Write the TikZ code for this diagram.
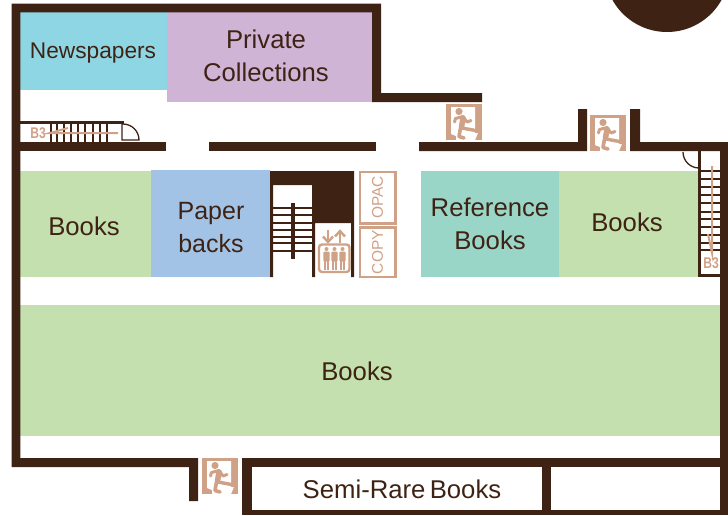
\documentclass[tikz,border=0pt]{standalone}
\usepackage{fontspec}
\setmainfont{Liberation Sans}
\definecolor{wall}{HTML}{3E2314}
\definecolor{tan}{HTML}{CFA186}
\definecolor{cyanr}{HTML}{8FD6E4}
\definecolor{purp}{HTML}{D0B4D6}
\definecolor{grn}{HTML}{C3E0AE}
\definecolor{blu}{HTML}{A3C3E6}
\definecolor{teal2}{HTML}{99D6C8}
\newcommand{\exitsign}[2]{%
 \begin{scope}[shift={(#1,#2)}]
  \fill[tan] (0,0) rectangle (36,36);
  \fill[white] (5,3) -- (29,3) -- (29,25) -- (32,29) -- (29,36) -- (10,36) -- (10,32) -- (5,30) -- cycle;
  \fill[tan] (13,7.5) circle (3.6);
  \draw[tan,line width=3,line join=round,line cap=round] (8.5,18) -- (9.5,14.5) -- (17,12.5) -- (21,18) -- (25,16.5);
  \draw[tan,line width=5.5,line cap=round] (17,14) -- (15.5,23);
  \draw[tan,line width=3.4,line join=round,line cap=round] (16,24) -- (24,25.5) -- (29.5,26.5) -- (31,28);
  \draw[tan,line width=3.6,line join=round,line cap=round] (14.5,24) -- (13,32.5) -- (18,34);
 \end{scope}}
\newcommand{\person}[1]{%
 \fill[tan] (#1,249) circle (2);
 \fill[tan,rounded corners=1] (#1-3.2,251.5) rectangle (#1+3.2,261.5);
 \fill[tan] (#1-2.3,261) rectangle (#1-.3,269.5);
 \fill[tan] (#1+.3,261) rectangle (#1+2.3,269.5);}
\newcommand{\bthree}{\scalebox{.78}[1]{\bfseries\fontsize{15.5}{15.5}\selectfont B3}}
\tikzset{
 room/.style={font=\fontsize{25.7}{33}\selectfont,text=wall,align=center,inner sep=0pt},
 tread/.style={draw=wall,line width=2.3},
 thin/.style={draw=wall,line width=1.3},
 tanline/.style={draw=tan,line width=2},
 signbox/.style={draw=tan,line width=2.6,minimum width=35.5,inner sep=0pt}
}
\begin{document}
\begin{tikzpicture}[x=1pt,y=-1pt]
\useasboundingbox (0,0) rectangle (728,515);
% rooms
\fill[cyanr] (20,12) rectangle (167,90);
\fill[purp] (167,12) rectangle (372,102);
\fill[grn] (20,171) rectangle (151,277);
\fill[blu] (151,170) rectangle (270,277);
\fill[teal2] (421,171) rectangle (559,277);
\fill[grn] (559,171) rectangle (698,277);
\fill[grn] (20,305) rectangle (720,436);
% outer walls
\fill[wall] (667,-30.4) circle (62.4);
\fill[wall] (11.5,3.5) -- (381,3.5) -- (381,93) -- (482,93) -- (482,102) -- (372,102) -- (372,12.3) -- (20.3,12.3) -- (20.3,458) -- (198,458) -- (198,501) -- (189,501) -- (189,467) -- (11.5,467) -- cycle;
\fill[wall] (20,142) rectangle (166,151);
\fill[wall] (209,142) rectangle (376,151);
\fill[wall] (419,142) -- (578,142) -- (578,109) -- (587,109) -- (587,151) -- (419,151) -- cycle;
\fill[wall] (630,109) -- (640,109) -- (640,142) -- (728,142) -- (728,151) -- (630,151) -- cycle;
\fill[wall] (720,151) rectangle (728,510);
\fill[wall] (242,458) rectangle (728,467);
\fill[wall] (242,458) rectangle (252,515);
\fill[wall] (252,510) rectangle (728,515);
\fill[wall] (542,467) rectangle (551,510);
% central core
\fill[wall] (270,171) -- (354,171) -- (354,277) -- (351,277) -- (351,223) -- (315,223) -- (315,277) -- (312,277) -- (312,185) -- (273,185) -- (273,277) -- (270,277) -- cycle;
\foreach \y in {208,215,223,230,237,243,251} \draw[tread] (273,\y) -- (312,\y);
\fill[wall] (291,203) rectangle (295,259);
% left stair
\fill[wall] (20,121) rectangle (124,124);
\foreach \x in {51,57,64,71,78,85,93,100,107} \draw[tread] (\x,124) -- (\x,142);
\draw[thin] (122,124) -- (122,140) -- (139,140) arc[start angle=0,end angle=-90,radius=16];
\node[text=tan,inner sep=0pt] (b3a) at (38,133) {\bthree};
\coordinate (a1) at (118,133);
\coordinate (a2) at (50,133);
\draw[tanline] (a1) -- (a2) -- (68,128);
% right stair
\fill[wall] (698,151) rectangle (701,277);
\fill[wall] (698,274) rectangle (720,277);
\foreach \y in {171,179,187,195,203,212,219,227,235,243,250} \draw[tread] (701,\y) -- (720,\y);
\draw[thin] (699,168) arc[start angle=90,end angle=180,radius=16];
\node[text=tan,inner sep=0pt] (b3b) at (711,263) {\bthree};
\coordinate (b1) at (712,166);
\coordinate (b2) at (712,253);
\draw[tanline] (b1) -- (b2) -- (708,234);
% signs
\node[signbox,minimum height=51.5,anchor=north west,text=tan] (opac) at (358.5,170.5) {\rotatebox{90}{\fontsize{15.5}{15.5}\selectfont OPAC}};
\node[signbox,minimum height=49.5,anchor=north west,text=tan] (copy) at (358.5,226) {\rotatebox{90}{\fontsize{15.5}{15.5}\selectfont COPY}};
% lift
\draw[tan,line width=2.4,rounded corners=3] (319,244.5) rectangle (349.5,272);
\person{326.5}\person{334.5}\person{342.5}
\draw[tan,line width=2.4] (328,230) -- (328,242);
\draw[tan,line width=2.4] (323,236.5) -- (328,242) -- (333,236.5);
\draw[tan,line width=2.4] (340,243) -- (340,231);
\draw[tan,line width=2.4] (335,236.5) -- (340,231) -- (345,236.5);
% exits
\exitsign{446}{104}
\exitsign{590}{115}
\exitsign{202}{458}
% labels
\node[room,font=\fontsize{22.7}{28}\selectfont] (news) at (93,53) {Newspapers};
\node[room] (priv) at (266,56) {Private\\Collections};
\node[room] (bk1) at (84,226) {Books};
\node[room,font=\fontsize{25}{33}\selectfont] (pb) at (211,227.5) {Paper\\backs};
\node[room] (ref) at (490,224) {Reference\\Books};
\node[room] (bk2) at (627,222) {Books};
\node[room] (bk3) at (357,371) {Books};
\node[room] (semi) at (402,489) {Semi-Rare\,Books};
\end{tikzpicture}
\end{document}
